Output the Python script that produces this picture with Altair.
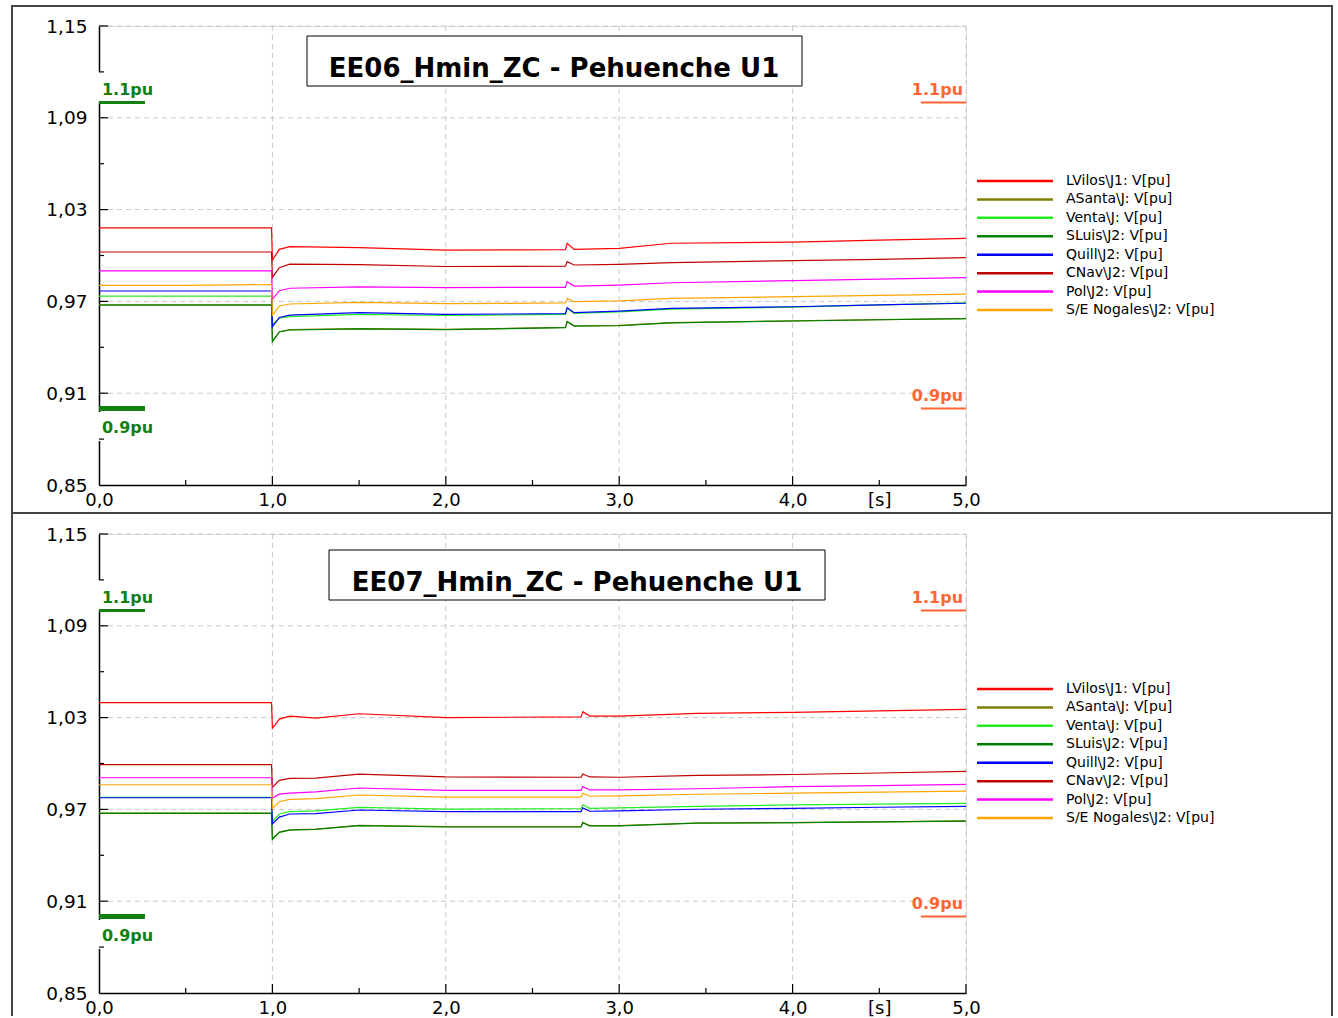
import altair as alt
import pandas as pd

# ---------------- data ----------------
SERIES = ["LVilos\\J1: V[pu]", "ASanta\\J: V[pu]", "Venta\\J: V[pu]", "SLuis\\J2: V[pu]",
          "Quill\\J2: V[pu]", "CNav\\J2: V[pu]", "Pol\\J2: V[pu]", "S/E Nogales\\J2: V[pu]"]
COLORS = ["#ff0000", "#808000", "#22ee22", "#008000", "#0000ff", "#c00000", "#ff00ff", "#ffa500"]

TITLE_EE06 = "EE06_Hmin_ZC - Pehuenche U1"
TITLE_EE07 = "EE07_Hmin_ZC - Pehuenche U1"

T_EE06 = [0, 0.5, 0.995, 1.0, 1.04, 1.10, 1.5, 2.0, 2.69, 2.70, 2.74, 3.0, 3.3, 4.0, 4.5, 5.0]
EE06_LVILOS = [1.0180, 1.0180, 1.0180, 0.9970, 1.0040, 1.0058, 1.0052, 1.0035, 1.0038, 1.0080, 1.0040, 1.0047, 1.0080, 1.0088, 1.0100, 1.0112]
EE06_ASANTA = [0.9678, 0.9678, 0.9678, 0.9440, 0.9502, 0.9515, 0.9522, 0.9517, 0.9530, 0.9569, 0.9541, 0.9543, 0.9561, 0.9573, 0.9581, 0.9588]
EE06_VENTA = [0.9735, 0.9735, 0.9735, 0.9550, 0.9590, 0.9600, 0.9615, 0.9608, 0.9615, 0.9655, 0.9622, 0.9632, 0.9650, 0.9663, 0.9677, 0.9690]
EE06_SLUIS = [0.9676, 0.9676, 0.9676, 0.9437, 0.9500, 0.9513, 0.9520, 0.9515, 0.9528, 0.9567, 0.9539, 0.9541, 0.9560, 0.9572, 0.9580, 0.9587]
EE06_QUILL = [0.9768, 0.9768, 0.9768, 0.9535, 0.9595, 0.9610, 0.9626, 0.9615, 0.9620, 0.9659, 0.9626, 0.9637, 0.9655, 0.9665, 0.9677, 0.9688]
EE06_CNAV = [1.0023, 1.0023, 1.0023, 0.9857, 0.9920, 0.9943, 0.9940, 0.9928, 0.9930, 0.9960, 0.9938, 0.9942, 0.9953, 0.9966, 0.9975, 0.9986]
EE06_POL = [0.9900, 0.9900, 0.9900, 0.9714, 0.9770, 0.9786, 0.9795, 0.9790, 0.9792, 0.9829, 0.9800, 0.9807, 0.9822, 0.9836, 0.9845, 0.9855]
EE06_NOGALES = [0.9805, 0.9805, 0.9810, 0.9610, 0.9670, 0.9683, 0.9694, 0.9685, 0.9690, 0.9720, 0.9698, 0.9703, 0.9720, 0.9731, 0.9740, 0.9748]

T_EE07 = [0, 0.5, 0.995, 1.0, 1.04, 1.10, 1.25, 1.5, 2.0, 2.78, 2.79, 2.83, 3.0, 3.45, 4.0, 4.5, 5.0]
EE07_LVILOS = [1.0398, 1.0398, 1.0398, 1.0230, 1.0290, 1.0310, 1.0296, 1.0325, 1.0300, 1.0305, 1.0339, 1.0310, 1.0310, 1.0328, 1.0334, 1.0344, 1.0354]
EE07_ASANTA = [0.9676, 0.9676, 0.9676, 0.9508, 0.9552, 0.9567, 0.9572, 0.9596, 0.9587, 0.9587, 0.9615, 0.9594, 0.9594, 0.9611, 0.9614, 0.9619, 0.9625]
EE07_VENTA = [0.9778, 0.9778, 0.9778, 0.9620, 0.9670, 0.9685, 0.9690, 0.9713, 0.9702, 0.9705, 0.9730, 0.9707, 0.9710, 0.9720, 0.9729, 0.9735, 0.9740]
EE07_SLUIS = [0.9674, 0.9674, 0.9674, 0.9505, 0.9550, 0.9565, 0.9570, 0.9594, 0.9585, 0.9585, 0.9613, 0.9592, 0.9592, 0.9610, 0.9613, 0.9618, 0.9624]
EE07_QUILL = [0.9776, 0.9776, 0.9776, 0.9605, 0.9650, 0.9670, 0.9672, 0.9696, 0.9685, 0.9685, 0.9710, 0.9688, 0.9690, 0.9701, 0.9707, 0.9714, 0.9720]
EE07_CNAV = [0.9992, 0.9992, 0.9992, 0.9844, 0.9890, 0.9903, 0.9905, 0.9931, 0.9912, 0.9910, 0.9931, 0.9912, 0.9910, 0.9922, 0.9928, 0.9938, 0.9948]
EE07_POL = [0.9907, 0.9907, 0.9907, 0.9775, 0.9800, 0.9807, 0.9815, 0.9840, 0.9825, 0.9824, 0.9849, 0.9827, 0.9827, 0.9835, 0.9849, 0.9856, 0.9864]
EE07_NOGALES = [0.9861, 0.9861, 0.9861, 0.9707, 0.9750, 0.9766, 0.9770, 0.9794, 0.9780, 0.9780, 0.9806, 0.9786, 0.9788, 0.9799, 0.9806, 0.9813, 0.9819]

Y_TICKS = [0.85, 0.91, 0.97, 1.03, 1.09, 1.15]
Y_GRID = [0.91, 0.97, 1.03, 1.09, 1.15]
Y_MINOR = [0.88, 0.94, 1.00, 1.06, 1.12]
X_TICKS = [0, 0.5, 1, 1.5, 2, 2.5, 3, 3.5, 4, 4.5, 5]
X_GRID = [1, 2, 3, 4, 5]
X_MINOR = [0.5, 1.5, 2.5, 3.5, 4.5]

LIMIT_HIGH = 1.1
LIMIT_LOW = 0.9
LEFT_MARK = [0.0, 0.265]
RIGHT_MARK = [4.74, 5.0]
LEFT_LABEL_T = 0.017
RIGHT_LABEL_T = 4.983

# ---------------- layout ----------------
W, H = 867, 459
FONT = "DejaVu Sans"
GREEN = "#118011"
ORANGE = "#ff6633"
GRIDC = "#c8c8c8"

xs = alt.Scale(domain=[0, 5], nice=False, zero=False)
ys = alt.Scale(domain=[0.85, 1.15], nice=False, zero=False)

XA = alt.Axis(values=X_TICKS, title=None, grid=False, ticks=False, tickSize=0,
              domainColor="black", domainWidth=1.5, labelFont=FONT, labelFontSize=18,
              labelColor="black", labelPadding=6, labelFlush=False, labelOverlap=False,
              labelExpr="datum.value == 4.5 ? '[s]' : (datum.value % 1 == 0 ? replace(format(datum.value, '.1f'), '.', ',') : '')")
YA = alt.Axis(values=Y_TICKS, title=None, grid=False, ticks=False, tickSize=0,
              domainColor="black", domainWidth=1.5, labelFont=FONT, labelFontSize=18.5,
              labelColor="black", labelPadding=12, labelOverlap=False,
              labelExpr="replace(format(datum.value, '.2f'), '.', ',')")


def X(field):
    return alt.X(field, scale=xs, axis=XA)


def Y(field):
    return alt.Y(field, scale=ys, axis=YA)


one = pd.DataFrame({"a": [0]})


def panel(times, arrays, title, box, text_xy, bottom):
    rows = []
    for name, vals in zip(SERIES, arrays):
        for t, v in zip(times, vals):
            rows.append({"series": name, "t": t, "v": v})
    df = pd.DataFrame(rows)

    grid_h = alt.Chart(pd.DataFrame({"v": Y_GRID})).mark_rule(
        color=GRIDC, strokeDash=[5, 4], strokeWidth=1).encode(
        y=Y("v:Q"), x=alt.value(0), x2=alt.value(W))
    grid_v = alt.Chart(pd.DataFrame({"t": X_GRID})).mark_rule(
        color=GRIDC, strokeDash=[5, 4], strokeWidth=1).encode(
        x=X("t:Q"), y=alt.value(0), y2=alt.value(H))

    ytick_major = alt.Chart(pd.DataFrame({"v": Y_GRID})).mark_rule(color="black", strokeWidth=1.2).encode(
        y=Y("v:Q"), x=alt.value(0), x2=alt.value(9))
    ytick_minor = alt.Chart(pd.DataFrame({"v": Y_MINOR})).mark_rule(color="black", strokeWidth=1.2).encode(
        y=Y("v:Q"), x=alt.value(0), x2=alt.value(5))
    xtick_major = alt.Chart(pd.DataFrame({"t": X_GRID})).mark_rule(color="black", strokeWidth=1.2).encode(
        x=X("t:Q"), y=alt.value(H), y2=alt.value(H - 9))
    xtick_minor = alt.Chart(pd.DataFrame({"t": X_MINOR})).mark_rule(color="black", strokeWidth=1.2).encode(
        x=X("t:Q"), y=alt.value(H), y2=alt.value(H - 5))

    lines = alt.Chart(df).mark_line(strokeWidth=1.2, clip=True).encode(
        x=X("t:Q"), y=Y("v:Q"),
        color=alt.Color("series:N", scale=alt.Scale(domain=SERIES, range=COLORS), legend=None),
        order=alt.Order("t:Q"))

    white = alt.Chart(one).mark_rect(fill="white").encode(
        x=alt.value(-3), x2=alt.value(62), y=alt.value(46), y2=alt.value(76))
    white2 = alt.Chart(one).mark_rect(fill="white").encode(
        x=alt.value(-3), x2=alt.value(62), y=alt.value(386), y2=alt.value(415))

    g_hi = alt.Chart(pd.DataFrame({"t": [LEFT_MARK[0]], "t1": [LEFT_MARK[1]], "v": [LIMIT_HIGH]})).mark_rule(
        color=GREEN, strokeWidth=3).encode(x=X("t:Q"), x2="t1:Q", y=Y("v:Q"))
    g_lo = alt.Chart(pd.DataFrame({"t": [LEFT_MARK[0]], "t1": [LEFT_MARK[1]], "v": [LIMIT_LOW]})).mark_rule(
        color=GREEN, strokeWidth=5).encode(x=X("t:Q"), x2="t1:Q", y=Y("v:Q"))
    o_lim = alt.Chart(pd.DataFrame({"t": [RIGHT_MARK[0]] * 2, "t1": [RIGHT_MARK[1]] * 2,
                                    "v": [LIMIT_HIGH, LIMIT_LOW]})).mark_rule(
        color=ORANGE, strokeWidth=2).encode(x=X("t:Q"), x2="t1:Q", y=Y("v:Q"))

    def lab(t, v, txt, color, align, dy):
        return alt.Chart(pd.DataFrame({"t": [t], "v": [v], "s": [txt]})).mark_text(
            font=FONT, fontSize=16, fontWeight="bold", color=color, align=align,
            baseline="middle", dy=dy).encode(x=X("t:Q"), y=Y("v:Q"), text="s:N")

    labels = [
        lab(LEFT_LABEL_T, LIMIT_HIGH, "1.1pu", GREEN, "left", -13),
        lab(LEFT_LABEL_T, LIMIT_LOW, "0.9pu", GREEN, "left", 19),
        lab(RIGHT_LABEL_T, LIMIT_HIGH, "1.1pu", ORANGE, "right", -13),
        lab(RIGHT_LABEL_T, LIMIT_LOW, "0.9pu", ORANGE, "right", -13),
    ]

    tbox = alt.Chart(one).mark_rect(fill="white", stroke="black", strokeWidth=1).encode(
        x=alt.value(box[0]), x2=alt.value(box[1]), y=alt.value(box[2]), y2=alt.value(box[3]))
    ttext = alt.Chart(pd.DataFrame({"s": [title]})).mark_text(
        font=FONT, fontSize=26, fontWeight="bold", color="black", align="center",
        baseline="alphabetic").encode(x=alt.value(text_xy[0]), y=alt.value(text_xy[1]), text="s:N")

    if not bottom:
        frame = [alt.Chart(one).mark_rect(fillOpacity=0, stroke="#444444", strokeWidth=2).encode(
            x=alt.value(-87), x2=alt.value(1233), y=alt.value(-20), y2=alt.value(487))]
    else:
        frame = [
            alt.Chart(one).mark_rule(color="#444444", strokeWidth=2).encode(
                x=alt.value(-87), x2=alt.value(1233), y=alt.value(-21)),
            alt.Chart(one).mark_rule(color="#444444", strokeWidth=2).encode(
                x=alt.value(-87), y=alt.value(-21), y2=alt.value(482)),
            alt.Chart(one).mark_rule(color="#444444", strokeWidth=2).encode(
                x=alt.value(1233), y=alt.value(-21), y2=alt.value(482)),
        ]

    main = alt.layer(grid_h, grid_v, lines, white, white2, ytick_major, ytick_minor,
                     xtick_major, xtick_minor, g_hi, g_lo, o_lim, *labels, tbox, ttext, *frame)

    ldf = pd.DataFrame({"series": SERIES})
    ly = alt.Y("series:N", sort=SERIES,
               scale=alt.Scale(type="point", domain=SERIES, range=[155, 284], padding=0), axis=None)
    leg_rule = alt.Chart(ldf).mark_rule(strokeWidth=2.5).encode(
        y=ly, x=alt.value(878), x2=alt.value(954),
        color=alt.Color("series:N", scale=alt.Scale(domain=SERIES, range=COLORS), legend=None))
    leg_text = alt.Chart(ldf).mark_text(font=FONT, fontSize=14, color="black", align="left",
                                        baseline="middle").encode(
        y=ly, x=alt.value(967), text="series:N")
    legend = alt.layer(leg_rule, leg_text)

    return alt.layer(main, legend).resolve_scale(y="independent").properties(width=W, height=H)


top = panel(T_EE06, [EE06_LVILOS, EE06_ASANTA, EE06_VENTA, EE06_SLUIS, EE06_QUILL, EE06_CNAV, EE06_POL, EE06_NOGALES],
            TITLE_EE06, (208, 703, 10, 60), (455, 51), False)
bot = panel(T_EE07, [EE07_LVILOS, EE07_ASANTA, EE07_VENTA, EE07_SLUIS, EE07_QUILL, EE07_CNAV, EE07_POL, EE07_NOGALES],
            TITLE_EE07, (230, 726, 16, 66), (478, 57), True)

chart = alt.vconcat(top, bot, spacing=49, bounds="flush").properties(
    padding={"left": 10, "top": 4, "right": 0, "bottom": 0}, background="white"
).configure_view(stroke="transparent").configure(font=FONT)

chart.save("out.html", embed_options={"renderer": "svg", "actions": False})
